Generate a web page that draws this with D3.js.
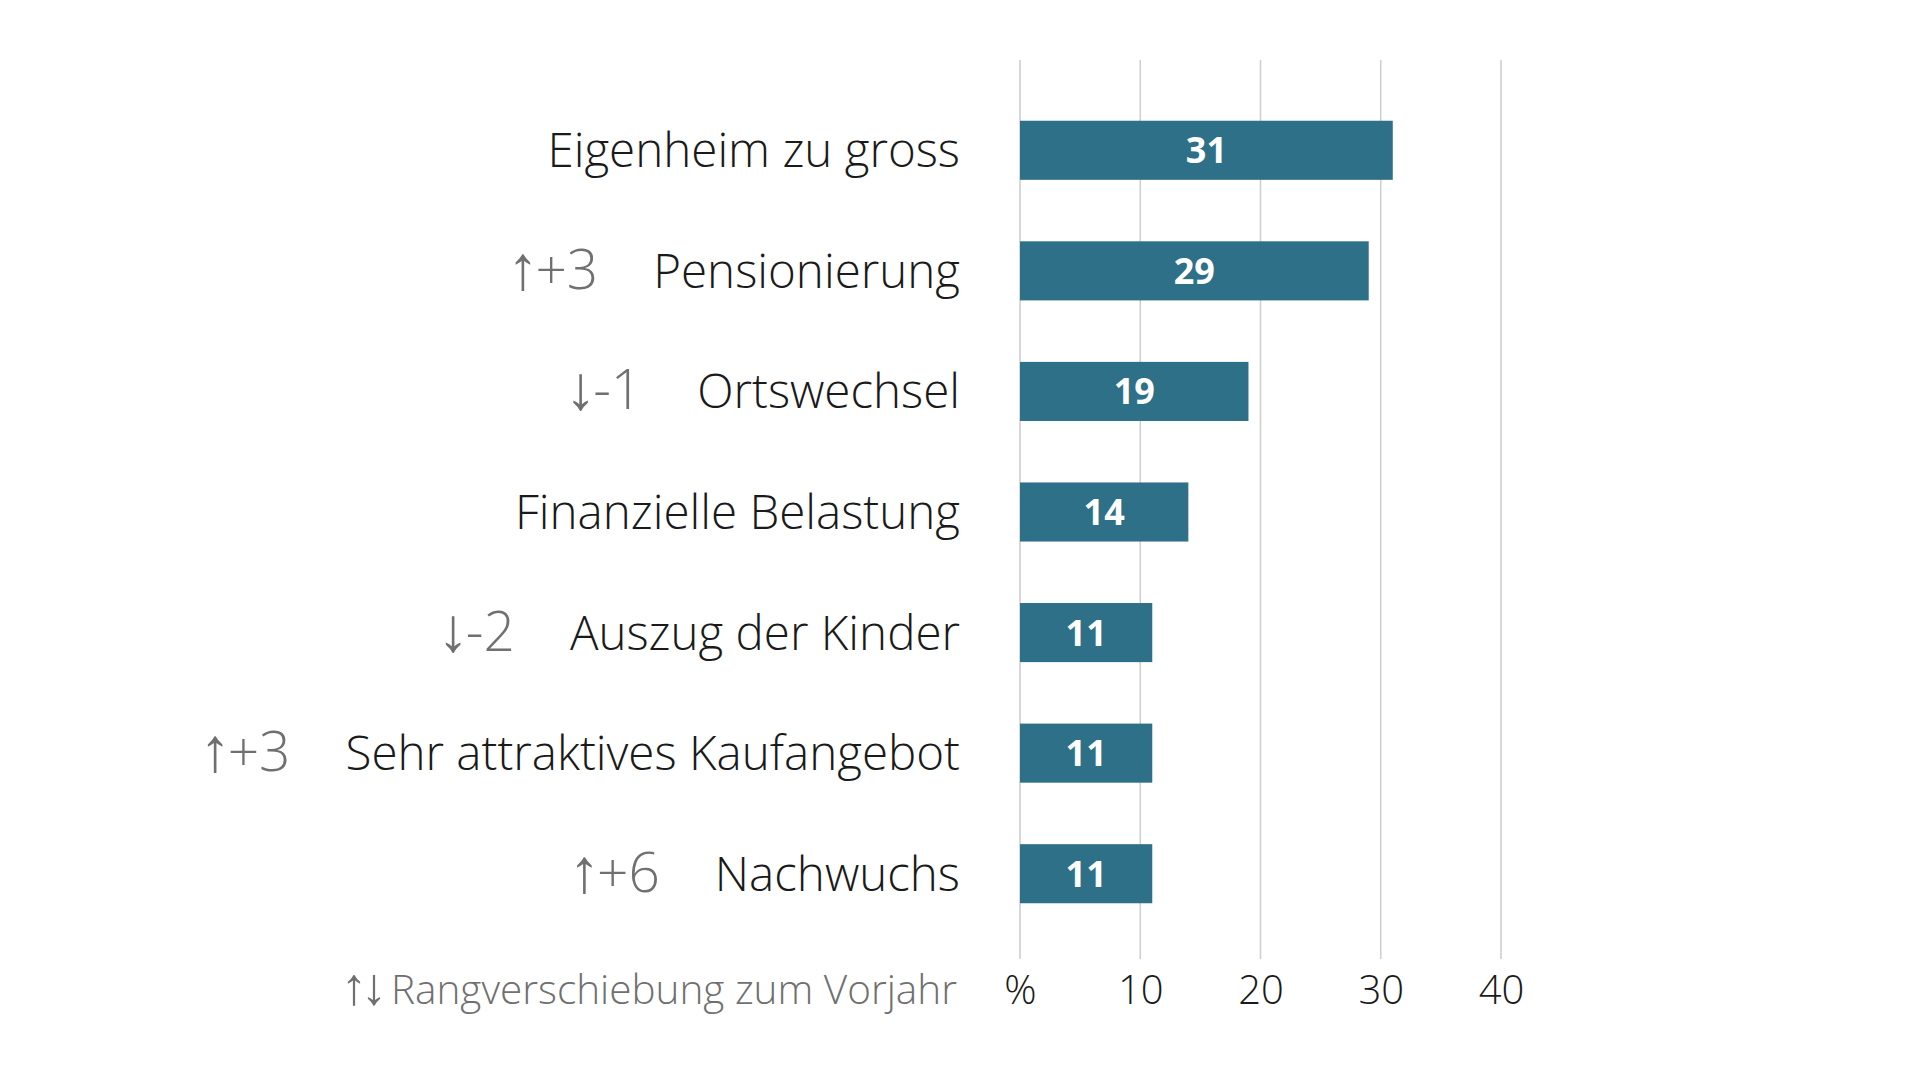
<!DOCTYPE html>
<meta charset="utf-8">
<style>
  body {
    margin: 0;
    background-color: white;
  }
  svg text {
    font-family: "Open Sans", sans-serif;
  }
  .grid line {
    stroke: #cfcfcf;
    stroke-width: 1.6px;
  }
</style>
<body>
  <div id="chart"></div>

  <script src="https://d3js.org/d3.v7.min.js"></script>
  <script>
    // Chart data
    const categories = [
      "Eigenheim zu gross",
      "Pensionierung",
      "Ortswechsel",
      "Finanzielle Belastung",
      "Auszug der Kinder",
      "Sehr attraktives Kaufangebot",
      "Nachwuchs"
    ];
    const values = [31, 29, 19, 14, 11, 11, 11];
    const rankChange = [null, 3, -1, null, -2, 3, 6];
    const tickValues = [0, 10, 20, 30, 40];
    const tickLabels = ["%", "10", "20", "30", "40"];
    const footnote = "Rangverschiebung zum Vorjahr";

    const data = categories.map((c, i) => ({ name: c, value: values[i], rank: rankChange[i] }));

    const width = 1920, height = 1080;

    const svg = d3.select("#chart")
      .append("svg")
      .attr("width", width)
      .attr("height", height);

    // Scales
    const x = d3.scaleLinear()
      .domain([0, 40])
      .range([1020, 1501]);

    const y = d3.scaleBand()
      .domain(categories)
      .range([90, 934])
      .paddingInner(0.51)
      .paddingOuter(0.255);

    // Gridlines
    svg.append("g")
      .attr("class", "grid")
      .selectAll("line")
      .data(tickValues)
      .join("line")
      .attr("x1", d => x(d))
      .attr("x2", d => x(d))
      .attr("y1", 60)
      .attr("y2", 959);

    // Tick labels (bottom axis, no line)
    const xAxis = d3.axisBottom(x)
      .tickValues(tickValues)
      .tickFormat((d, i) => tickLabels[i])
      .tickSize(0)
      .tickPadding(0);

    const axisG = svg.append("g")
      .attr("transform", "translate(0,1004)")
      .call(xAxis);
    axisG.select(".domain").remove();
    axisG.selectAll("text")
      .attr("dy", 0)
      .attr("y", 0)
      .style("font-family", "'Open Sans', sans-serif")
      .style("font-weight", 300)
      .style("font-size", "40px")
      .attr("fill", "#1a1a1a");

    // Bars
    svg.selectAll(".bar")
      .data(data)
      .join("rect")
      .attr("class", "bar")
      .attr("x", x(0))
      .attr("y", d => y(d.name))
      .attr("width", d => x(d.value) - x(0))
      .attr("height", y.bandwidth())
      .attr("fill", "#2e7087");

    // Value labels
    svg.selectAll(".val")
      .data(data)
      .join("text")
      .attr("class", "val")
      .attr("x", d => (x(0) + x(d.value)) / 2)
      .attr("y", d => y(d.name) + y.bandwidth() / 2 + 13)
      .attr("text-anchor", "middle")
      .style("font-weight", 700)
      .style("font-size", "36px")
      .attr("fill", "white")
      .text(d => d.value);

    // Category labels
    const labelRight = 960;
    const labels = svg.selectAll(".cat")
      .data(data)
      .join("text")
      .attr("class", "cat")
      .attr("x", labelRight)
      .attr("y", d => y(d.name) + y.bandwidth() / 2 + 17)
      .attr("text-anchor", "end")
      .style("font-weight", 300)
      .style("font-size", "47.5px")
      .attr("fill", "#1a1a1a")
      .text(d => d.name);

    // Rank change labels, placed left of each category label
    labels.each(function(d) {
      if (d.rank === null) return;
      const w = this.getComputedTextLength();
      const t = svg.append("text")
        .attr("x", labelRight - w - 55)
        .attr("y", y(d.name) + y.bandwidth() / 2 + 18)
        .attr("text-anchor", "end")
        .style("font-weight", 300)
        .style("font-size", "55px")
        .attr("fill", "#707070");
      t.append("tspan")
        .style("font-size", "62px")
        .style("font-weight", 200)
        .attr("letter-spacing", "-3px")
        .text(d.rank > 0 ? "↑" : "↓");
      t.append("tspan")
        .text((d.rank > 0 ? "+" : "-") + Math.abs(d.rank));
    });

    // Footnote
    const foot = svg.append("text")
      .attr("x", 957)
      .attr("y", 1004)
      .attr("text-anchor", "end")
      .style("font-weight", 300)
      .style("font-size", "40.5px")
      .attr("fill", "#707070");
    foot.append("tspan")
      .style("font-size", "52px")
      .style("font-weight", 200)
      .attr("letter-spacing", "-6px")
      .text("↑↓");
    foot.append("tspan")
      .attr("dx", 10)
      .text(footnote);
  </script>
</body>
</html>
